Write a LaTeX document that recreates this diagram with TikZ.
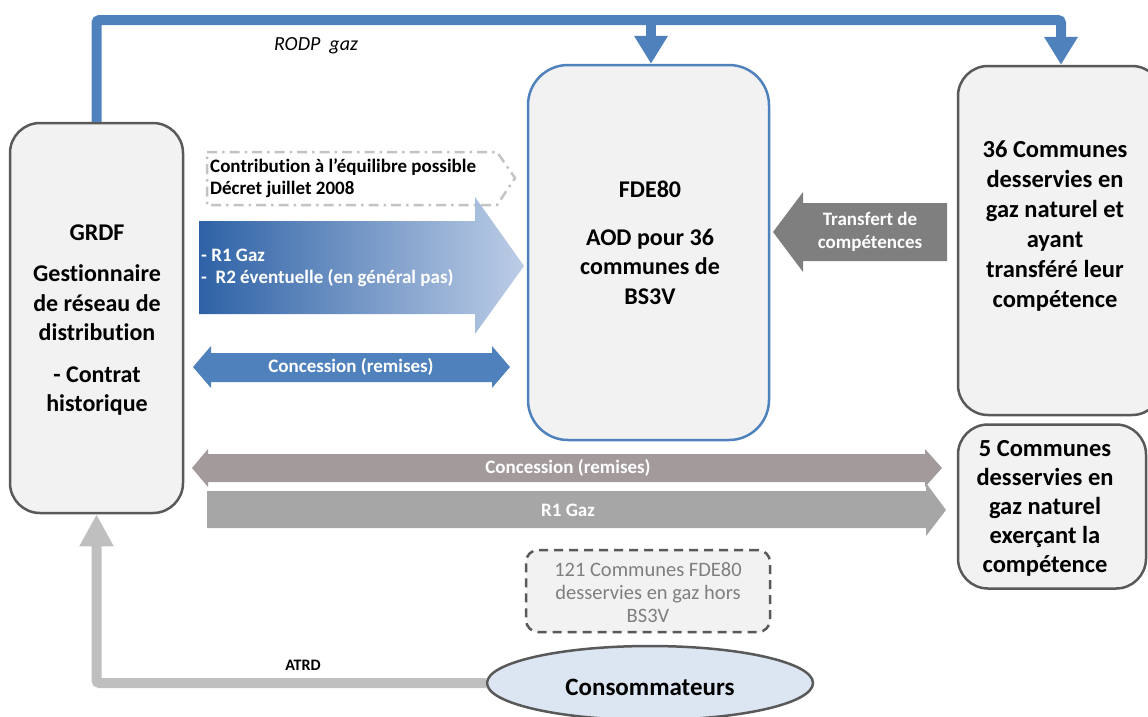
\documentclass[tikz,border=0pt]{standalone}
\usepackage{fontspec}
\setmainfont[Ligatures=NoCommon]{Carlito}
\usetikzlibrary{arrows.meta,shapes.geometric}
\definecolor{boxfill}{HTML}{F2F2F2}
\definecolor{boxline}{HTML}{595959}
\definecolor{bleu}{HTML}{4F81BD}
\definecolor{gradA}{HTML}{2E62A6}
\definecolor{gradB}{HTML}{BCCDE6}
\definecolor{grisT}{HTML}{7F7F7F}
\definecolor{grisC}{HTML}{A39B9B}
\definecolor{grisR}{HTML}{A6A6A6}
\definecolor{grisL}{HTML}{BFBFBF}
\definecolor{ellfill}{HTML}{DCE6F2}
\definecolor{dashgris}{HTML}{C3C3C3}
\begin{document}
\begin{tikzpicture}[x=1pt,y=-1pt,
  rbox/.style={draw=boxline, line width=2.5pt, fill=boxfill, rounded corners=30pt},
  bbox/.style={draw=bleu, line width=2.5pt, fill=boxfill, rounded corners=40pt},
  big/.style={font=\fontsize{24}{29.5}\selectfont\bfseries, align=center, inner sep=0pt},
  mid/.style={font=\fontsize{19}{22.5}\selectfont\bfseries, inner sep=0pt},
  rodp/.style={draw=bleu, line width=10pt, rounded corners=3pt},
  rtip/.style={-{Triangle[width=32pt,length=28pt]}},
  atrd/.style={draw=grisL, line width=10pt, rounded corners=3pt, -{Triangle[width=32pt,length=32pt]}}
]
\useasboundingbox (0,0) rectangle (1148,716);

% boxes
\node[rbox, minimum width=173pt, minimum height=390pt] (grdf) at (96.5,318) {};
\node[bbox, minimum width=241pt, minimum height=375pt] (fde) at (648.5,252.5) {};
\node[rbox, minimum width=204pt, minimum height=349pt] (c36) at (1060,240.5) {};
\node[rbox, minimum width=188pt, minimum height=164pt] (c5) at (1052,506.5) {};
\node[draw=boxline, line width=2.5pt, dashed, dash pattern=on 9pt off 6pt, fill=boxfill, rounded corners=12pt,
      minimum width=244pt, minimum height=82pt] (c121) at (648,591) {};
\node[ellipse, draw=boxline, line width=2.5pt, fill=ellfill, minimum width=326pt, minimum height=74pt] (cons) at (650,683) {};

% box texts
\node[big] (tgrdf) at (97,320) {GRDF\\[12pt]Gestionnaire\\de réseau de\\distribution\\[12pt]- Contrat\\historique};
\node[big] (tfde) at (650,243) {FDE80\\[18pt]AOD pour 36\\communes de\\BS3V};
\node[big, font=\fontsize{24.5}{30}\selectfont\bfseries] (t36) at (1055,226) {36 Communes\\desservies en\\gaz naturel et\\ayant\\transféré leur\\compétence};
\node[big, font=\fontsize{24.5}{29}\selectfont\bfseries] (t5) at (1045,508) {5 Communes\\desservies en\\gaz naturel\\exerçant la\\compétence};
\node[font=\fontsize{20.5}{23}\selectfont, text=grisT, align=center, inner sep=0pt] (t121) at (648,593) {121 Communes  FDE80\\desservies en gaz hors\\BS3V};
\node[font=\fontsize{25}{28}\selectfont\bfseries, inner sep=0pt] (tcons) at (650,687) {Consommateurs};

% RODP gaz connector
\coordinate (top) at (651,20);
\coordinate (topr) at (1061,20);
\draw[rodp] (grdf.north) -- (grdf.north |- top) -- (topr) -- (topr |- c36.north) [rtip];
\draw[rodp, rtip] (top) -- (top |- fde.north);
\node[font=\fontsize{20}{24}\selectfont\itshape, inner sep=0pt] (lrodp) at (316,46) {RODP~~gaz};

% ATRD connector
\draw[atrd] (cons.west) -| (grdf.south);
\node[font=\fontsize{16}{20}\selectfont\bfseries, inner sep=0pt] (latrd) at (303,665) {ATRD};

% dash-dot contribution arrow
\draw[draw=dashgris, line width=2.5pt, dash pattern=on 10pt off 5pt on 2.5pt off 5pt]
  (207,152) -- (497,152) -- (515,178) -- (497,205) -- (207,205) -- cycle;
\node[mid, anchor=west, align=left, font=\fontsize{19}{21.5}\selectfont\bfseries] (tcontrib) at (210,178) {Contribution à l’équilibre possible\\Décret juillet 2008};

% gradient arrow R1 / R2
\shade[left color=gradA, right color=gradB]
  (199,221) -- (475,221) -- (475,197) -- (524,266) -- (475,334) -- (475,314) -- (199,314) -- cycle;
\node[mid, text=white, anchor=west, align=left] (tr1) at (201,268) {- R1 Gaz\\-~~R2 éventuelle (en général pas)};

% blue double arrow concession
\fill[bleu] (193,367) -- (211,346) -- (211,353) -- (492,353) -- (492,346) -- (510,367) -- (492,388) -- (492,382) -- (211,382) -- (211,388) -- cycle;
\node[mid, text=white] (tcb) at (351,367) {Concession (remises)};

% transfert arrow
\fill[grisT] (773,232) -- (803,192) -- (803,203) -- (947,203) -- (947,261) -- (803,261) -- (803,272) -- cycle;
\node[mid, text=white, align=center, font=\fontsize{19}{23}\selectfont\bfseries] (ttr) at (870,232) {Transfert de\\compétences};

% grey double arrow concession
\fill[grisC] (192,468) -- (208,449) -- (208,454) -- (925,454) -- (925,449) -- (942,468) -- (925,487) -- (925,482) -- (208,482) -- (208,487) -- cycle;
\node[mid, text=white] (tcg) at (568,468) {Concession (remises)};

% R1 gaz grey arrow
\fill[grisR] (207,491) -- (926,491) -- (926,483) -- (946,510) -- (926,536) -- (926,528) -- (207,528) -- cycle;
\node[mid, text=white] (tr1g) at (568,510) {R1 Gaz};
\end{tikzpicture}
\end{document}
